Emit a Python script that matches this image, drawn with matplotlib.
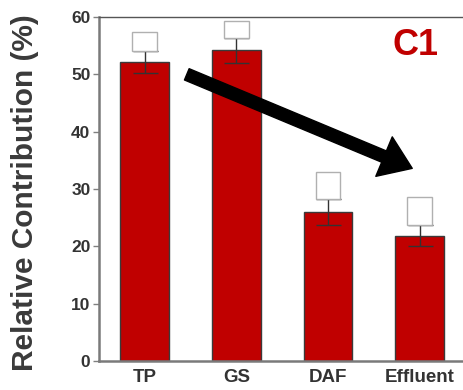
import numpy as np
import matplotlib
matplotlib.use("Agg")
import matplotlib.pyplot as plt
from matplotlib.patches import Rectangle, FancyArrowPatch

categories = ["TP", "GS", "DAF", "Effluent"]
values = [52.2, 54.3, 26.0, 21.8]
err_up = [1.9, 2.1, 2.3, 1.9]
err_down = [1.9, 2.3, 2.3, 1.7]
# blank label boxes above the bars (bottom, top in data units)
box_bottom = [54.0, 56.4, 28.3, 23.7]
box_top = [57.4, 59.3, 33.0, 28.6]

plt.rcParams['font.family'] = ['Liberation Sans', 'DejaVu Sans']
fig = plt.figure(figsize=(4.64, 3.90), dpi=100)
ax = fig.add_axes([0.213, 0.0744, 0.79, 0.882])

x = np.arange(len(categories))
ax.bar(x, values, width=0.53, color="#c00000", edgecolor="#3a3a3a", linewidth=1.0, zorder=2)
ax.errorbar(x, values, yerr=[err_down, err_up], fmt="none", ecolor="#333333",
            elinewidth=1.0, capsize=9, capthick=1.0, zorder=3)

for xi, b0, b1 in zip(x, box_bottom, box_top):
    ax.add_patch(Rectangle((xi - 0.135, b0), 0.27, b1 - b0, facecolor="white",
                           edgecolor="#b0b0b0", linewidth=1.0, zorder=4))

arrow = FancyArrowPatch((0.46, 50.0), (2.92, 33.6),
                        arrowstyle="simple,tail_width=0.4,head_width=1.4,head_length=1.0",
                        mutation_scale=22, color="black", zorder=5,
                        shrinkA=0, shrinkB=0)
ax.add_patch(arrow)

ax.text(2.96, 55.1, "C1", color="#c00000", fontsize=26, fontweight="bold",
        ha="center", va="center")

ax.set_xlim(-0.5, 3.5)
ax.set_ylim(0, 60)
ax.set_yticks([0, 10, 20, 30, 40, 50, 60])
ax.set_xticks(x)
ax.set_xticklabels(categories)
for lab in ax.get_xticklabels() + ax.get_yticklabels():
    lab.set_fontweight("bold")
    lab.set_color("#333333")
ax.tick_params(axis="y", labelsize=12.5, length=4, width=1, color="#808080", pad=2)
ax.tick_params(axis="x", labelsize=13.5, length=0, pad=6)

ax.set_ylabel("Relative Contribution (%)", fontsize=21.5, fontweight="bold",
              color="#3a3a3a")
ax.yaxis.set_label_coords(-0.163, 0.49)

for side in ["left", "bottom"]:
    ax.spines[side].set_color("#7a7a7a")
    ax.spines[side].set_linewidth(1.8)
ax.spines["top"].set_color("#555555")
ax.spines["top"].set_linewidth(1.0)
ax.spines["right"].set_visible(False)

fig.savefig("out.png", dpi=100)
